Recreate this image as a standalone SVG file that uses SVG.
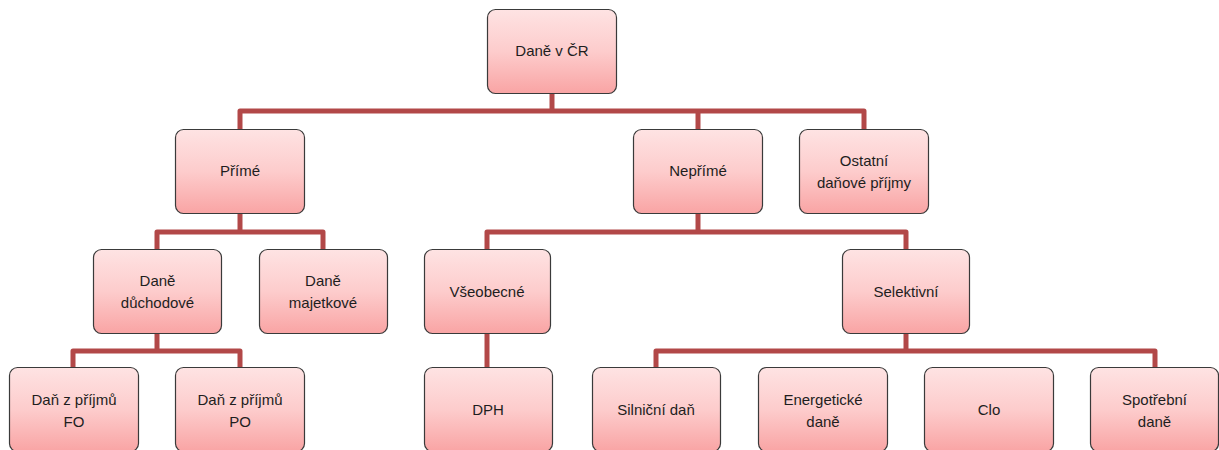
<svg xmlns="http://www.w3.org/2000/svg" width="1219" height="450" viewBox="0 0 1219 450">
<defs>
<linearGradient id="g" x1="0" y1="0" x2="0" y2="1">
<stop offset="0" stop-color="#fee3e3"/>
<stop offset="0.5" stop-color="#fdcccc"/>
<stop offset="1" stop-color="#f9a4a4"/>
</linearGradient>
<style>
.n rect{fill:url(#g);stroke:#3a3a3a;stroke-width:1.2}
.n text{font-family:"Liberation Sans",Arial,sans-serif;font-size:15px;fill:#1e1e1e;text-anchor:middle}
.c path{fill:none;stroke:#b24848;stroke-width:5;stroke-linejoin:round;stroke-linecap:butt}
</style>
</defs>
<rect width="1219" height="450" fill="#fff"/>
<g class="c">
<path d="M552 93V111"/>
<path d="M240 129V111H864V129"/>
<path d="M698 111V129"/>
<path d="M240 213V232"/>
<path d="M157 249V232H323V249"/>
<path d="M698 213V232"/>
<path d="M487 249V232H906V249"/>
<path d="M157 333V351"/>
<path d="M73 367V351H240V367"/>
<path d="M487 333V367"/>
<path d="M906 333V351"/>
<path d="M656 367V351H1155V367"/>
</g>
<g class="n" id="n-root"><rect x="487.5" y="9.5" width="129" height="84" rx="8"/><text x="552" y="56">Daně v ČR</text></g>
<g class="n" id="n-prime"><rect x="175.5" y="129.5" width="129" height="84" rx="8"/><text x="240" y="176">Přímé</text></g>
<g class="n" id="n-neprime"><rect x="633.5" y="129.5" width="129" height="84" rx="8"/><text x="698" y="176">Nepřímé</text></g>
<g class="n" id="n-ostatni"><rect x="799.5" y="129.5" width="129" height="84" rx="8"/><text x="864" y="166">Ostatní</text><text x="864" y="188">daňové příjmy</text></g>
<g class="n" id="n-duchodove"><rect x="93.5" y="249.5" width="128" height="84" rx="8"/><text x="157.5" y="286">Daně</text><text x="157.5" y="308">důchodové</text></g>
<g class="n" id="n-majetkove"><rect x="259.5" y="249.5" width="128" height="84" rx="8"/><text x="323" y="286">Daně</text><text x="323" y="308">majetkové</text></g>
<g class="n" id="n-vseobecne"><rect x="424.5" y="249.5" width="126" height="84" rx="8"/><text x="487" y="297">Všeobecné</text></g>
<g class="n" id="n-selektivni"><rect x="842.5" y="249.5" width="127" height="84" rx="8"/><text x="906" y="297">Selektivní</text></g>
<g class="n" id="n-fo"><rect x="9.5" y="367.5" width="129" height="84" rx="8"/><text x="74" y="405">Daň z příjmů</text><text x="74" y="427">FO</text></g>
<g class="n" id="n-po"><rect x="175.5" y="367.5" width="129" height="84" rx="8"/><text x="240" y="405">Daň z příjmů</text><text x="240" y="427">PO</text></g>
<g class="n" id="n-dph"><rect x="424.5" y="367.5" width="128" height="84" rx="8"/><text x="488" y="415">DPH</text></g>
<g class="n" id="n-silnicni"><rect x="592.5" y="367.5" width="128" height="84" rx="8"/><text x="656" y="415">Silniční daň</text></g>
<g class="n" id="n-energeticke"><rect x="758.5" y="367.5" width="129" height="84" rx="8"/><text x="823" y="405">Energetické</text><text x="823" y="427">daně</text></g>
<g class="n" id="n-clo"><rect x="924.5" y="367.5" width="129" height="84" rx="8"/><text x="989" y="415">Clo</text></g>
<g class="n" id="n-spotrebni"><rect x="1090.5" y="367.5" width="128" height="84" rx="8"/><text x="1154.5" y="405">Spotřební</text><text x="1154.5" y="427">daně</text></g>
</svg>
